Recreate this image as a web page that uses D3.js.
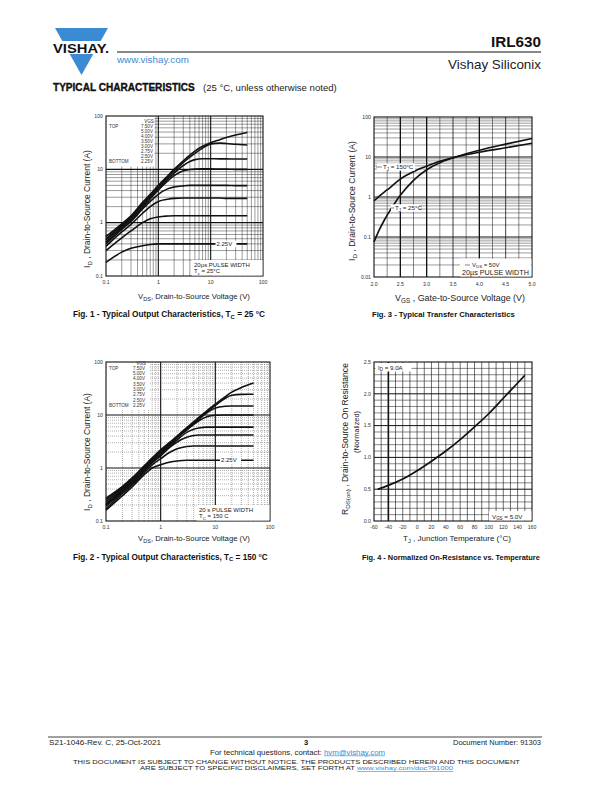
<!DOCTYPE html>
<html><head><meta charset="utf-8">
<script src="https://cdn.jsdelivr.net/npm/d3@7"></script>
<style>
body{margin:0;background:#fff}
svg{display:block}
text{font-family:"Liberation Sans",Arial,Helvetica,sans-serif}
</style>
</head><body>
<svg id="page" width="612" height="792"></svg>
<script>
// ---------------- DATA ----------------
// Fig. 1 – output characteristics, Tc = 25 °C
const fig1Vgs = ["7.50V","5.00V","4.00V","3.50V","3.00V","2.75V","2.50V","2.25V"];
const fig1Vds = [0.1,0.2,0.3,0.5,0.7,1,1.5,2,3,4,5,7,10,15,20,30,50];
const fig1Id750 = [0.55,0.95,1.35,2.4,3.4,5.0,7.5,10,14.5,18.5,22,27,31.5,36,39.5,44,49];
const fig1Id500 = [0.5,0.9,1.28,2.25,3.2,4.7,7.0,9.3,13.5,17,20,25,30,31,30.5,29.5,28.5];
const fig1Id400 = [0.47,0.85,1.2,2.1,3.0,4.4,6.5,8.5,11.8,14,15.2,15.8,15.8,15.7,15.7,15.6,15.6];
const fig1Id350 = [0.43,0.8,1.13,1.95,2.8,4.1,6.0,7.6,9.4,9.9,10.1,10.2,10.2,10.1,10.1,10.0,10.0];
const fig1Id300 = [0.4,0.75,1.05,1.8,2.5,3.4,4.3,4.65,4.9,5.0,5.0,5.0,5.0,5.0,5.0,4.95,4.95];
const fig1Id275 = [0.36,0.67,0.93,1.5,2.0,2.5,2.75,2.85,2.9,2.9,2.9,2.9,2.9,2.9,2.85,2.85,2.85];
const fig1Id250 = [0.3,0.52,0.7,1.0,1.18,1.28,1.33,1.35,1.35,1.35,1.35,1.35,1.35,1.35,1.35,1.35,1.35];
const fig1Id225 = [0.18,0.28,0.33,0.37,0.39,0.4,0.4,0.4,0.4,0.4,0.4,0.4,0.4,0.4,0.4,0.4,0.4];
const fig1Series = [fig1Id750,fig1Id500,fig1Id400,fig1Id350,fig1Id300,fig1Id275,fig1Id250,fig1Id225];

// Fig. 2 – output characteristics, Tc = 150 °C
const fig2Vgs = ["7.50V","5.00V","4.00V","3.50V","3.00V","2.75V","2.50V","2.25V"];
const fig2Vds = [0.1,0.2,0.3,0.5,0.7,1,1.5,2,3,4,5,7,10,15,20,30,50];
const fig2Id750 = [0.27,0.45,0.65,1.1,1.55,2.2,3.1,4.0,5.8,7.4,9,12,16,22,27,33,40];
const fig2Id500 = [0.25,0.43,0.62,1.05,1.5,2.1,3.0,3.9,5.6,7.2,8.7,11.5,15.2,20.5,23.5,24.5,24.6];
const fig2Id400 = [0.23,0.41,0.6,1.0,1.45,2.0,2.9,3.8,5.4,6.9,8.3,11,13.5,14.6,14.8,14.8,14.8];
const fig2Id350 = [0.21,0.39,0.57,0.97,1.38,1.95,2.8,3.7,5.2,6.6,7.8,9.3,9.9,10,10,10,10];
const fig2Id300 = [0.2,0.37,0.54,0.92,1.3,1.8,2.65,3.4,4.7,5.4,5.7,5.9,5.9,5.9,5.9,5.9,5.9];
const fig2Id275 = [0.19,0.35,0.51,0.88,1.25,1.7,2.5,3.1,3.8,4.1,4.2,4.2,4.2,4.2,4.2,4.2,4.2];
const fig2Id250 = [0.17,0.33,0.48,0.82,1.15,1.5,2.0,2.3,2.55,2.6,2.6,2.6,2.6,2.6,2.6,2.6,2.6];
const fig2Id225 = [0.16,0.3,0.44,0.75,1.0,1.15,1.3,1.36,1.4,1.4,1.4,1.4,1.4,1.4,1.4,1.4,1.4];
const fig2Series = [fig2Id750,fig2Id500,fig2Id400,fig2Id350,fig2Id300,fig2Id275,fig2Id250,fig2Id225];

// Fig. 3 – transfer characteristics
const fig3Vgs = [2.0,2.1,2.2,2.3,2.4,2.5,2.75,3.0,3.25,3.5,3.75,4.0,4.5,5.0];
const fig3Id25 = [0.075,0.15,0.27,0.45,0.72,1.1,2.6,4.8,7.2,9.5,12,14.8,21,29];
const fig3Id150 = [0.8,1.05,1.35,1.7,2.2,2.8,4.3,5.9,7.8,9.6,11.4,13.2,17,22];
const fig3XTicks = [2.0,2.5,3.0,3.5,4.0,4.5,5.0];
const fig3YTicks = [0.01,0.1,1,10,100];

// Fig. 4 – normalized on-resistance vs temperature
const fig4Tj = [-55,-40,-20,0,20,40,60,80,100,120,140,150];
const fig4Rds = [0.5,0.56,0.66,0.79,0.94,1.1,1.28,1.48,1.69,1.93,2.17,2.29];
const fig4XTicks = [-60,-40,-20,0,20,40,60,80,100,120,140,160];
const fig4YTicks = [0.0,0.5,1.0,1.5,2.0,2.5];

const logTickLabels = {0.01:"0.01",0.1:"0.1",1:"1",10:"10",100:"100"};

// ---------------- HELPERS ----------------
const svg = d3.select("#page");
const ink = "#222";
const blue = "#3b8ad4";

function txt(g, x, y, s, o={}) {
  const t = g.append("text").attr("x",x).attr("y",y).text(s)
    .attr("font-size", o.size||6).attr("fill", o.fill||ink)
    .attr("text-anchor", o.anchor||"start");
  if (o.weight) t.attr("font-weight", o.weight);
  if (o.w) fit(t, o.w);
  if (o.len) t.attr("textLength", o.len).attr("lengthAdjust","spacingAndGlyphs");
  return t;
}
// scale font-size so that the text gets the wanted width
function fit(t, w) {
  const fs = +t.attr("font-size");
  const l = t.node().getComputedTextLength();
  if (l > 0) t.attr("font-size", fs * w / l);
  return t;
}
// text with subscript: parts = [[str, isSub], ...]
function subText(g, x, y, parts, o={}) {
  const t = g.append("text").attr("x",x).attr("y",y)
    .attr("font-size", o.size||7).attr("fill", o.fill||ink)
    .attr("text-anchor", o.anchor||"start");
  if (o.weight) t.attr("font-weight", o.weight);
  if (o.rotate) t.attr("transform", `rotate(-90,${x},${y})`);
  let sub = false;
  parts.forEach(([s,isSub])=>{
    const sp = t.append("tspan").text(s);
    if (isSub) sp.attr("font-size","72%");
    if (isSub && !sub) { sp.attr("dy","0.3em"); sub = true; }
    else if (!isSub && sub) { sp.attr("dy","-0.216em"); sub = false; }
  });
  if (o.w) fit(t, o.w);
  return t;
}
function logMinors(dom) {
  const out = [];
  for (let e = Math.round(Math.log10(dom[0])); e < Math.round(Math.log10(dom[1])); e++) {
    for (let m = 2; m <= 9; m++) out.push(m*Math.pow(10,e));
  }
  return out;
}
function logMajors(dom) {
  const out = [];
  for (let e = Math.round(Math.log10(dom[0])); e <= Math.round(Math.log10(dom[1])); e++) out.push(Math.pow(10,e));
  return out;
}

// ------------- output characteristic chart (fig 1 / fig 2) -------------
function outputChart(o) {
  const g = svg.append("g");
  const x = d3.scaleLog().domain([0.1,100]).range([o.x0,o.x1]);
  const y = d3.scaleLog().domain([0.1,100]).range([o.y1,o.y0]);
  const gg = g.append("g");
  const minorStyle = (sel)=> {
    sel.attr("stroke", o.dotted ? "#555" : "#222").attr("stroke-width", o.dotted?0.6:0.45);
    if (o.dotted) sel.attr("stroke-dasharray","0.8,1.2");
  };
  logMinors([0.1,100]).forEach(v=>{
    minorStyle(gg.append("line").attr("x1",x(v)).attr("x2",x(v)).attr("y1",o.y0).attr("y2",o.y1));
    minorStyle(gg.append("line").attr("y1",y(v)).attr("y2",y(v)).attr("x1",o.x0).attr("x2",o.x1));
  });
  [1,10].forEach(v=>{
    gg.append("line").attr("x1",x(v)).attr("x2",x(v)).attr("y1",o.y0).attr("y2",o.y1).attr("stroke","#111").attr("stroke-width",1.1);
    gg.append("line").attr("y1",y(v)).attr("y2",y(v)).attr("x1",o.x0).attr("x2",o.x1).attr("stroke","#111").attr("stroke-width",1.1);
  });
  // legend white area
  g.append("rect").attr("x",o.x0+0.5).attr("y",o.y0+0.5).attr("width",o.legW).attr("height",o.legH).attr("fill","#fff");
  // curves
  const line = d3.line().x(d=>x(d[0])).y(d=>y(d[1])).curve(d3.curveMonotoneX);
  o.series.forEach(s=>{
    const pts = o.vds.map((v,i)=>[v,s[i]]);
    g.append("path").attr("d", line(pts)).attr("fill","none").attr("stroke","#111").attr("stroke-width",1.6);
  });
  // frame
  g.append("rect").attr("x",o.x0).attr("y",o.y0).attr("width",o.x1-o.x0).attr("height",o.y1-o.y0)
    .attr("fill","none").attr("stroke","#111").attr("stroke-width",1.1);
  // tick labels
  logMajors([0.1,100]).forEach(v=>{
    txt(g, x(v), o.y1+8, logTickLabels[v], {size:5.2, anchor:"middle", fill:"#333"});
    txt(g, o.x0-3, y(v)+1.8, logTickLabels[v], {size:5.2, anchor:"end", fill:"#333"});
  });
  // legend
  txt(g, o.legValX-4, o.legTop-4.8, "VGS", {size:4.6, anchor:"middle", fill:"#333"});
  txt(g, o.x0+3, o.legTop, "TOP", {size:4.6, fill:"#333"});
  o.vgs.forEach((s,i)=>{
    txt(g, o.legValX, o.legTop + i*o.legStep, s, {size:4.6, anchor:"end", fill:"#333"});
  });
  txt(g, o.x0+3, o.legTop + 7*o.legStep, "BOTTOM", {size:4.6, fill:"#333"});
  // 2.25V label
  const ly = y(o.series[7][o.series[7].length-1]);
  g.append("rect").attr("x",o.lblX-1).attr("y",ly-3.2).attr("width",21).attr("height",6.4).attr("fill","#fff");
  txt(g, o.lblX, ly+2.1, "2.25V", {size:6, fill:"#222"});
  // pulse box
  g.append("rect").attr("x",o.boxX).attr("y",o.y1-16).attr("width",o.x1-o.boxX-0.6).attr("height",15.5).attr("fill","#fff");
  txt(g, o.boxX+2, o.y1-9.5, o.pulse, {size:6, fill:"#222"});
  subText(g, o.boxX+2, o.y1-2.6, o.tc, {size:6});
  // axis titles
  subText(g, o.xTitleX, o.xTitleY, [["V",false],["DS",true],[", Drain-to-Source Voltage (V)",false]], {size:7.5, anchor:"middle", w:112});
  subText(g, o.yTitleX, o.yTitleY, [["I",false],["D",true],[" , Drain-to-Source Current (A)",false]], {size:7.5, anchor:"middle", rotate:true, w:118});
}

// ---------------- HEADER ----------------
svg.append("path").attr("d","M55,28 L108,28 L100.7,41 L62.3,41 Z").attr("fill",blue);
svg.append("path").attr("d","M69.7,54 L93.3,54 L81.5,75 Z").attr("fill",blue);
txt(svg, 53, 52.5, "VISHAY.", {size:12.5, weight:"bold", fill:"#111", len:56});
svg.append("line").attr("x1",117).attr("x2",541).attr("y1",52).attr("y2",52).attr("stroke","#111").attr("stroke-width",1);
txt(svg, 541, 46.5, "IRL630", {size:14.5, weight:"bold", anchor:"end", fill:"#111", w:50});
txt(svg, 541, 68.5, "Vishay Siliconix", {size:12.5, anchor:"end", fill:"#222", w:93});
txt(svg, 117, 62.5, "www.vishay.com", {size:9.5, fill:blue, w:72});
txt(svg, 53, 90.5, "TYPICAL CHARACTERISTICS", {size:8.5, weight:"bold", fill:"#111", w:142}).attr("stroke","#111").attr("stroke-width",0.35);
txt(svg, 203, 90.5, "(25 °C, unless otherwise noted)", {size:8.5, fill:"#222", w:134});

// ---------------- FIG 1 ----------------
outputChart({x0:106,x1:263,y0:116,y1:276, vds:fig1Vds, series:fig1Series, vgs:fig1Vgs,
  legW:48, legH:50, legTop:127.5, legStep:5.1, legValX:153,
  lblX:216.5, boxX:192, pulse:"20µs PULSE WIDTH", tc:[["T",false],["c",true],[" = 25°C",false]],
  xTitleX:194, xTitleY:299, yTitleX:90, yTitleY:209});

// ---------------- FIG 2 ----------------
outputChart({x0:106,x1:270,y0:362,y1:521, vds:fig2Vds, series:fig2Series, vgs:fig2Vgs, dotted:true,
  legW:43, legH:47, legTop:369.5, legStep:5.35, legValX:145,
  lblX:221, boxX:197, pulse:"20   s PULSE WIDTH", tc:[["T",false],["C",true],[" = 150  C",false]],
  xTitleX:194, xTitleY:541, yTitleX:90, yTitleY:452});

// ---------------- FIG 3 ----------------
(function(){
  const x0=374,x1=532,y0=117,y1=277;
  const g = svg.append("g");
  const x = d3.scaleLinear().domain([2,5]).range([x0,x1]);
  const y = d3.scaleLog().domain([0.01,100]).range([y1,y0]);
  logMinors([0.01,100]).forEach(v=>{
    g.append("line").attr("y1",y(v)).attr("y2",y(v)).attr("x1",x0).attr("x2",x1).attr("stroke","#222").attr("stroke-width",0.45);
  });
  d3.range(2.25,5,0.25).forEach(v=>{
    const half = Math.abs(v*2-Math.round(v*2))<1e-6;
    const thick = [2.5,3.0,4.0].some(t=>Math.abs(t-v)<1e-6);
    g.append("line").attr("x1",x(v)).attr("x2",x(v)).attr("y1",y0).attr("y2",y1)
      .attr("stroke","#111").attr("stroke-width", thick?1.3:(half?0.8:0.5));
  });
  [0.1,1,10].forEach(v=>{
    g.append("line").attr("y1",y(v)).attr("y2",y(v)).attr("x1",x0).attr("x2",x1).attr("stroke","#111").attr("stroke-width",1.2);
  });
  const line = d3.line().x(d=>x(d[0])).y(d=>y(d[1])).curve(d3.curveMonotoneX);
  [fig3Id150, fig3Id25].forEach(s=>{
    g.append("path").attr("d", line(fig3Vgs.map((v,i)=>[v,s[i]]))).attr("fill","none").attr("stroke","#111").attr("stroke-width",1.6);
  });
  g.append("rect").attr("x",x0).attr("y",y0).attr("width",x1-x0).attr("height",y1-y0).attr("fill","none").attr("stroke","#111").attr("stroke-width",1.1);
  fig3XTicks.forEach(v=> txt(g, x(v), y1+8.5, d3.format(".1f")(v), {size:5.2, anchor:"middle", fill:"#333"}));
  fig3YTicks.forEach(v=> txt(g, x0-3, y(v)+1.8, logTickLabels[v], {size:5.2, anchor:"end", fill:"#333"}));
  // annotations
  g.append("rect").attr("x",377).attr("y",163.3).attr("width",38).attr("height",7.4).attr("fill","#fff");
  subText(g, 383, 169.2, [["T",false],["J",true],[" = 150°C",false]], {size:6.2});
  g.append("line").attr("x1",376).attr("x2",382).attr("y1",167).attr("y2",167).attr("stroke","#333").attr("stroke-width",0.6);
  g.append("rect").attr("x",391).attr("y",204.3).attr("width",28).attr("height",7.4).attr("fill","#fff");
  subText(g, 395, 210.2, [["T",false],["J",true],[" = 25°C",false]], {size:6.2});
  g.append("line").attr("x1",391).attr("x2",394).attr("y1",208).attr("y2",208).attr("stroke","#333").attr("stroke-width",0.6);
  g.append("rect").attr("x",460).attr("y",258.5).attr("width",71.4).attr("height",18).attr("fill","#fff");
  g.append("line").attr("x1",465).attr("x2",470).attr("y1",265).attr("y2",265).attr("stroke","#333").attr("stroke-width",0.6);
  subText(g, 472, 266.5, [["V",false],["DS",true],[" = 50V",false]], {size:6});
  txt(g, 462, 274.5, "20µs PULSE WIDTH", {size:6, w:67});
  subText(g, 460, 301, [["V",false],["GS",true],[" , Gate-to-Source Voltage (V)",false]], {size:7.5, anchor:"middle", w:130});
  subText(g, 355, 201, [["I",false],["D",true],[" , Drain-to-Source Current (A)",false]], {size:7.5, anchor:"middle", rotate:true, w:120});
})();

// ---------------- FIG 4 ----------------
(function(){
  const x0=374,x1=532,y0=362,y1=521;
  const g = svg.append("g");
  const x = d3.scaleLinear().domain([-60,160]).range([x0,x1]);
  const y = d3.scaleLinear().domain([0,2.5]).range([y1,y0]);
  d3.range(-50,160,10).forEach(v=>{
    g.append("line").attr("x1",x(v)).attr("x2",x(v)).attr("y1",y0).attr("y2",y1)
      .attr("stroke","#111").attr("stroke-width", v===-40?1.6:0.6);
  });
  d3.range(1,25).forEach(k=>{
    const v = k/10;
    g.append("line").attr("y1",y(v)).attr("y2",y(v)).attr("x1",x0).attr("x2",x1)
      .attr("stroke","#111").attr("stroke-width", k%5===0?1.0:0.5);
  });
  const line = d3.line().x(d=>x(d[0])).y(d=>y(d[1])).curve(d3.curveMonotoneX);
  g.append("path").attr("d", line(fig4Tj.map((v,i)=>[v,fig4Rds[i]]))).attr("fill","none").attr("stroke","#111").attr("stroke-width",1.7);
  g.append("rect").attr("x",x0).attr("y",y0).attr("width",x1-x0).attr("height",y1-y0).attr("fill","none").attr("stroke","#111").attr("stroke-width",1.1);
  fig4XTicks.forEach(v=> txt(g, x(v), y1+8, String(v), {size:5.2, anchor:"middle", fill:"#333"}));
  fig4YTicks.forEach(v=> txt(g, x0-3, y(v)+1.8, d3.format(".1f")(v), {size:5.2, anchor:"end", fill:"#333"}));
  g.append("rect").attr("x",375.5).attr("y",363).attr("width",36).attr("height",8.5).attr("fill","#fff");
  subText(g, 378, 369.5, [["I",false],["D",true],[" = 9.0A",false]], {size:6.2});
  g.append("rect").attr("x",489).attr("y",511).attr("width",42.4).attr("height",9.4).attr("fill","#fff");
  subText(g, 492, 518.5, [["V",false],["GS",true],[" = 5.0V",false]], {size:6.2});
  subText(g, 457, 541, [["T",false],["J",true],[" , Junction Temperature (°C)",false]], {size:7.5, anchor:"middle", w:108});
  subText(g, 348, 439, [["R",false],["DS(on)",true],[" ,   Drain-to-Source On Resistance",false]], {size:7.5, anchor:"middle", rotate:true, w:152});
  txt(svg, 358.5, 432, "(Normalized)", {size:7.3, anchor:"middle"}).attr("transform","rotate(-90,358.5,432)");
})();

// ---------------- CAPTIONS ----------------
subText(svg, 73, 317, [["Fig. 1 - Typical Output Characteristics, T",false],["C",true],[" = 25 °C",false]], {size:7, weight:"bold", fill:"#111", w:192});
txt(svg, 372, 317, "Fig. 3 - Typical Transfer Characteristics", {size:7, weight:"bold", fill:"#111", w:143});
subText(svg, 73, 559.5, [["Fig. 2 - Typical Output Characteristics, T",false],["C",true],[" = 150 °C",false]], {size:7, weight:"bold", fill:"#111", w:195});
txt(svg, 362, 559.5, "Fig. 4 - Normalized On-Resistance vs. Temperature", {size:7, weight:"bold", fill:"#111", w:178});

// ---------------- FOOTER ----------------
svg.append("line").attr("x1",48).attr("x2",542).attr("y1",737).attr("y2",737).attr("stroke","#111").attr("stroke-width",0.8);
txt(svg, 49, 744.5, "S21-1046-Rev. C, 25-Oct-2021", {size:6.6, len:112});
txt(svg, 306, 745, "3", {size:7.5, weight:"bold", anchor:"middle", fill:"#111"});
txt(svg, 541, 744.5, "Document Number: 91303", {size:6.6, anchor:"end", len:88});
(function(){
  const t = svg.append("text").attr("x",297.5).attr("y",754.5).attr("font-size",6.6).attr("text-anchor","middle").attr("fill",ink)
    .attr("textLength",175).attr("lengthAdjust","spacingAndGlyphs");
  t.append("tspan").text("For technical questions, contact: ");
  t.append("tspan").text("hvm@vishay.com").attr("fill",blue).attr("text-decoration","underline");
  txt(svg, 296.5, 763.8, "THIS DOCUMENT IS SUBJECT TO CHANGE WITHOUT NOTICE. THE PRODUCTS DESCRIBED HEREIN AND THIS DOCUMENT", {size:6.1, anchor:"middle", len:447});
  const t2 = svg.append("text").attr("x",296.5).attr("y",770.2).attr("font-size",6.1).attr("text-anchor","middle").attr("fill",ink)
    .attr("textLength",313).attr("lengthAdjust","spacingAndGlyphs");
  t2.append("tspan").text("ARE SUBJECT TO SPECIFIC DISCLAIMERS, SET FORTH AT ");
  t2.append("tspan").text("www.vishay.com/doc?91000").attr("fill",blue).attr("text-decoration","underline");
})();
</script>
</body></html>
